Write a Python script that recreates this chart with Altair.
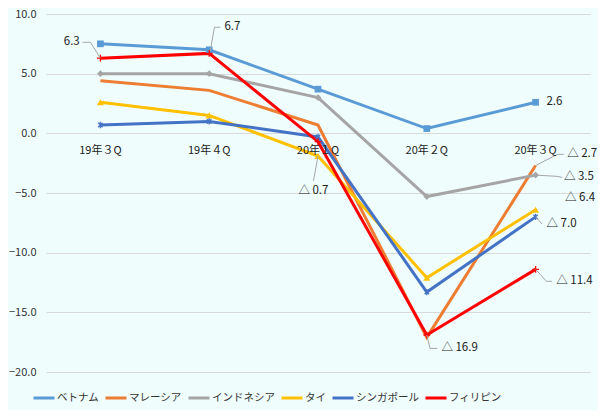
import altair as alt
import pandas as pd

quarters = ["19年３Q", "19年４Q", "20年１Q", "20年２Q", "20年３Q"]
series = ["ベトナム", "マレーシア", "インドネシア", "タイ", "シンガポール", "フィリピン"]
vietnam = [7.5, 7.0, 3.7, 0.4, 2.6]
malaysia = [4.4, 3.6, 0.7, -17.1, -2.7]
indonesia = [5.0, 5.0, 3.0, -5.3, -3.5]
thailand = [2.6, 1.5, -1.9, -12.1, -6.4]
singapore = [0.7, 1.0, -0.3, -13.3, -7.0]
philippines = [6.3, 6.7, -0.7, -16.9, -11.4]
colors = ["#5B9BD5", "#ED7D31", "#A5A5A5", "#FFC000", "#4472C4", "#FF0000"]
y_ticks = [-20, -15, -10, -5, 0, 5, 10]

# data labels: text, x (category index), y (value), alignment
ann_text = ["6.3", "6.7", "2.6", "△ 2.7", "△ 3.5", "△ 6.4", "△ 7.0", "△ 11.4", "△ 16.9", "△ 0.7"]
ann_x = [-0.19, 1.14, 4.1, 4.29, 4.26, 4.27, 4.1, 4.19, 3.134, 1.958]
ann_y = [7.63, 8.89, 2.6, -1.76, -3.69, -5.45, -7.63, -12.4, -18.02, -4.86]
ann_align = ["right", "left", "left", "left", "left", "left", "left", "left", "left", "center"]

# leader line segments (from x1,y1 to x2,y2)
seg_x1 = [0, -0.092, 1.01, 1.048, 4, 4.2, 4, 4.19, 4, 4, 4.1, 3, 3.03, 2]
seg_y1 = [6.3, 7.63, 6.9, 8.89, -2.7, -1.76, -3.5, -3.6, -7.0, -11.4, -12.4, -16.9, -18.02, -1.9]
seg_x2 = [-0.092, -0.165, 1.048, 1.103, 4.2, 4.26, 4.19, 4.245, 4.06, 4.1, 4.15, 3.03, 3.097, 1.958]
seg_y2 = [7.63, 7.63, 8.89, 8.89, -1.76, -1.76, -3.6, -3.69, -7.6, -12.4, -12.4, -18.02, -18.02, -4.0]

values = [vietnam, malaysia, indonesia, thailand, singapore, philippines]
rows = []
for s_i, (name, vals) in enumerate(zip(series, values)):
    for q_i, v in enumerate(vals):
        rows.append({"series": name, "sidx": s_i, "xi": q_i, "value": v})
df = pd.DataFrame(rows)

cat_df = pd.DataFrame({"cx": list(range(len(quarters))), "clabel": quarters,
                       "cy": [-1.5] * len(quarters)})
seg_df = pd.DataFrame({"sx1": seg_x1, "sy1": seg_y1, "sx2": seg_x2, "sy2": seg_y2})

FONT = "Noto Sans CJK JP"

xscale = alt.Scale(domain=[-0.5, 4.5], nice=False, zero=False)
yscale = alt.Scale(domain=[-20, 10], nice=False, zero=False)
color = alt.Color(
    "series:N",
    scale=alt.Scale(domain=series, range=colors),
    legend=alt.Legend(
        title=None, orient="none", legendX=-14, legendY=372, direction="horizontal",
        symbolType="stroke", symbolSize=441, symbolStrokeWidth=3,
        labelFont=FONT, labelFontSize=10.5, labelColor="#333333",
        columnPadding=0, labelOffset=1,
    ),
)

base = alt.Chart(df)

lines = base.mark_line(strokeWidth=3).encode(
    x=alt.X("xi:Q", scale=xscale, axis=None),
    y=alt.Y("value:Q", scale=yscale,
            axis=alt.Axis(values=y_ticks, format=".1f", title=None, domain=False, ticks=False,
                          grid=True, gridColor="#D9D9D9", labelFont=FONT, labelFontSize=11,
                          labelColor="#333333", labelPadding=10)),
    color=color,
)

marker_specs = [
    ("ベトナム", "square", True, 45),
    ("インドネシア", "diamond", True, 45),
    ("タイ", "triangle-up", True, 50),
    ("シンガポール", "M-0.7,-0.7L0.7,0.7M-0.7,0.7L0.7,-0.7M0,-1L0,1", False, 40),
    ("フィリピン", "M-1,0L1,0M0,-1L0,1", False, 45),
]
point_layers = []
for name, shp, filled, size in marker_specs:
    c = colors[series.index(name)]
    kw = dict(shape=shp, filled=filled, size=size, opacity=1, color=c)
    if not filled:
        kw["strokeWidth"] = 1.3
    point_layers.append(
        base.transform_filter(alt.datum.series == name).mark_point(**kw).encode(
            x=alt.X("xi:Q", scale=xscale),
            y=alt.Y("value:Q", scale=yscale),
        )
    )

cats = alt.Chart(cat_df).mark_text(font=FONT, fontSize=11, color="#222222").encode(
    x=alt.X("cx:Q", scale=xscale),
    y=alt.Y("cy:Q", scale=yscale),
    text=alt.Text("clabel:N"),
)

leaders = alt.Chart(seg_df).mark_rule(color="#A6A6A6", strokeWidth=1).encode(
    x=alt.X("sx1:Q", scale=xscale),
    y=alt.Y("sy1:Q", scale=yscale),
    x2="sx2:Q",
    y2="sy2:Q",
)

ann_layers = []
for al in ["left", "right", "center"]:
    idx = [i for i, a in enumerate(ann_align) if a == al]
    adf = pd.DataFrame({"at": [ann_text[i] for i in idx],
                        "ax": [ann_x[i] for i in idx],
                        "ay": [ann_y[i] for i in idx]})
    ann_layers.append(
        alt.Chart(adf).mark_text(font=FONT, fontSize=11.5, color="#222222", align=al,
                                 baseline="middle").encode(
            x=alt.X("ax:Q", scale=xscale),
            y=alt.Y("ay:Q", scale=yscale),
            text=alt.Text("at:N"),
        )
    )

chart = alt.layer(
    lines, *point_layers, leaders, cats, *ann_layers,
).properties(
    width=544, height=358,
    background="#EFFDFD",
    padding={"left": 38, "top": 6, "right": 8, "bottom": 38},
    autosize=alt.AutoSizeParams(type="none"),
).configure_view(stroke=None)

chart.save("out.html", embed_options={"renderer": "svg", "actions": False})
